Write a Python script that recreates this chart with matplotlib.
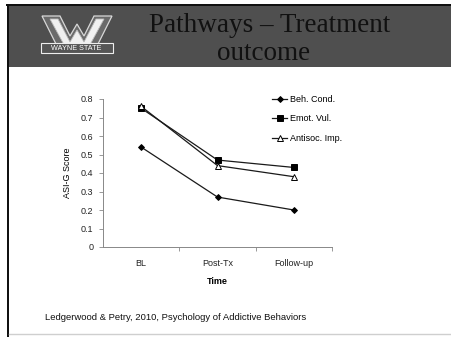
import numpy as np
import matplotlib
matplotlib.use("Agg")
import matplotlib.pyplot as plt
import matplotlib.patches as mpatches
from matplotlib.lines import Line2D

W, H = 451, 337

# ASI-G scores per pathway at each assessment
time_points = ["BL", "Post-Tx", "Follow-up"]
beh_cond = [0.54, 0.27, 0.20]
emot_vul = [0.75, 0.47, 0.43]
antisoc_imp = [0.76, 0.44, 0.38]
series_names = ["Beh. Cond.", "Emot. Vul.", "Antisoc. Imp."]
y_ticks = [0, 0.1, 0.2, 0.3, 0.4, 0.5, 0.6, 0.7, 0.8]


def fx(x):
    return x / W


def fy(y):
    return 1 - y / H


def fig_poly(pts, **kw):
    fig.patches.append(mpatches.Polygon([(fx(a), fy(b)) for a, b in pts], closed=True,
                                        transform=fig.transFigure, **kw))


fig = plt.figure(figsize=(W / 100, H / 100), dpi=100)
fig.patch.set_facecolor("white")

# slide frame: dark header band, black left edge, faint bottom rule
fig.patches.append(mpatches.Rectangle((fx(8), fy(67)), fx(W - 8), 61 / H,
                                      transform=fig.transFigure,
                                      facecolor="#4f4f4f", edgecolor="none"))
fig.patches.append(mpatches.Rectangle((fx(6), fy(6)), fx(W - 6), 2.5 / H,
                                      transform=fig.transFigure,
                                      facecolor="#111111", edgecolor="none"))
fig.patches.append(mpatches.Rectangle((fx(6.5), fy(337)), 2.5 / W, 331 / H,
                                      transform=fig.transFigure,
                                      facecolor="#111111", edgecolor="none"))
fig.lines.append(Line2D([fx(9), 1], [fy(333.5), fy(333.5)],
                        transform=fig.transFigure, color="#cfcfcf", lw=1))

# university mark: outlined W over a name banner
fig_poly([(42, 16), (60, 16), (70, 36), (77, 24), (84, 36), (94, 16), (112, 16),
          (95, 50), (59, 50)], facecolor="#6a6a6a", edgecolor="#d8d8d8", lw=0.9)
fig_poly([(50, 19), (58, 19), (70, 42), (77, 30), (84, 42), (96, 19), (104, 19),
          (86, 52), (80, 52), (77, 46), (74, 52), (68, 52)],
         facecolor="#f0f0f0", edgecolor="#bcbcbc", lw=0.6)
fig.patches.append(mpatches.Rectangle((fx(40.5), fy(52.5)), fx(72), 9 / H,
                                      transform=fig.transFigure,
                                      facecolor="#555555", edgecolor="#eeeeee", lw=0.8))
fig.text(fx(76.5), fy(48), "WAYNE STATE", color="white", fontsize=5.2,
         family="Liberation Sans", ha="center", va="center")

# slide title
fig.text(fx(270), fy(25), "Pathways \u2013 Treatment", color="#111111",
         fontsize=19.5, family="Liberation Serif", ha="center", va="center")
fig.text(fx(264), fy(53), "outcome", color="#111111",
         fontsize=19.5, family="Liberation Serif", ha="center", va="center")

# citation
fig.text(fx(45), fy(317), "Ledgerwood & Petry, 2010, Psychology of Addictive Behaviors",
         fontsize=6.8, family="Liberation Sans", ha="left", va="center", color="#111111")

ax = fig.add_axes([fx(103), fy(247), (332 - 103) / W, (247 - 99) / H])
x = np.arange(len(time_points))
styles = [dict(marker="D", ms=3, mfc="black"),
          dict(marker="s", ms=4.2, mfc="black"),
          dict(marker="^", ms=4, mfc="white")]
for vals, name, st in zip([beh_cond, emot_vul, antisoc_imp], series_names, styles):
    ax.plot(x, vals, color="#1a1a1a", lw=0.9, mec="black", mew=0.7, label=name, **st)

ax.set_xlim(-0.5, 2.5)
ax.set_ylim(0, 0.8)
ax.set_yticks(y_ticks)
ax.set_yticklabels(["0"] + [f"{v:.1f}" for v in y_ticks[1:]])
ax.set_xticks(x)
ax.set_xticklabels(time_points)
ax.set_xticks([0.5, 1.5, 2.5], minor=True)
ax.tick_params(axis="x", which="major", length=0, pad=9, labelsize=6.5, colors="#222222")
ax.tick_params(axis="x", which="minor", length=3, width=0.6, direction="out", color="#888888")
ax.tick_params(axis="y", length=3, width=0.6, direction="out", color="#888888",
               labelsize=6.5, labelcolor="#222222", pad=4)
for s in ["top", "right"]:
    ax.spines[s].set_visible(False)
for s in ["left", "bottom"]:
    ax.spines[s].set_color("#888888")
    ax.spines[s].set_linewidth(0.7)
for lab in ax.get_xticklabels() + ax.get_yticklabels():
    lab.set_family("Liberation Sans")

ax.set_ylabel("ASI-G Score", fontsize=6.5, family="Liberation Sans", labelpad=6)
ax.set_xlabel("Time", fontsize=6.5, family="Liberation Sans", fontweight="bold", labelpad=6)

leg = ax.legend(loc="upper left", bbox_to_anchor=(fx(272), fy(95)),
                bbox_transform=fig.transFigure, frameon=False,
                prop={"family": "Liberation Sans", "size": 6.5},
                handlelength=1.7, handletextpad=0.25, labelspacing=1.15,
                borderpad=0, borderaxespad=0)

fig.savefig("out.png", dpi=100)
